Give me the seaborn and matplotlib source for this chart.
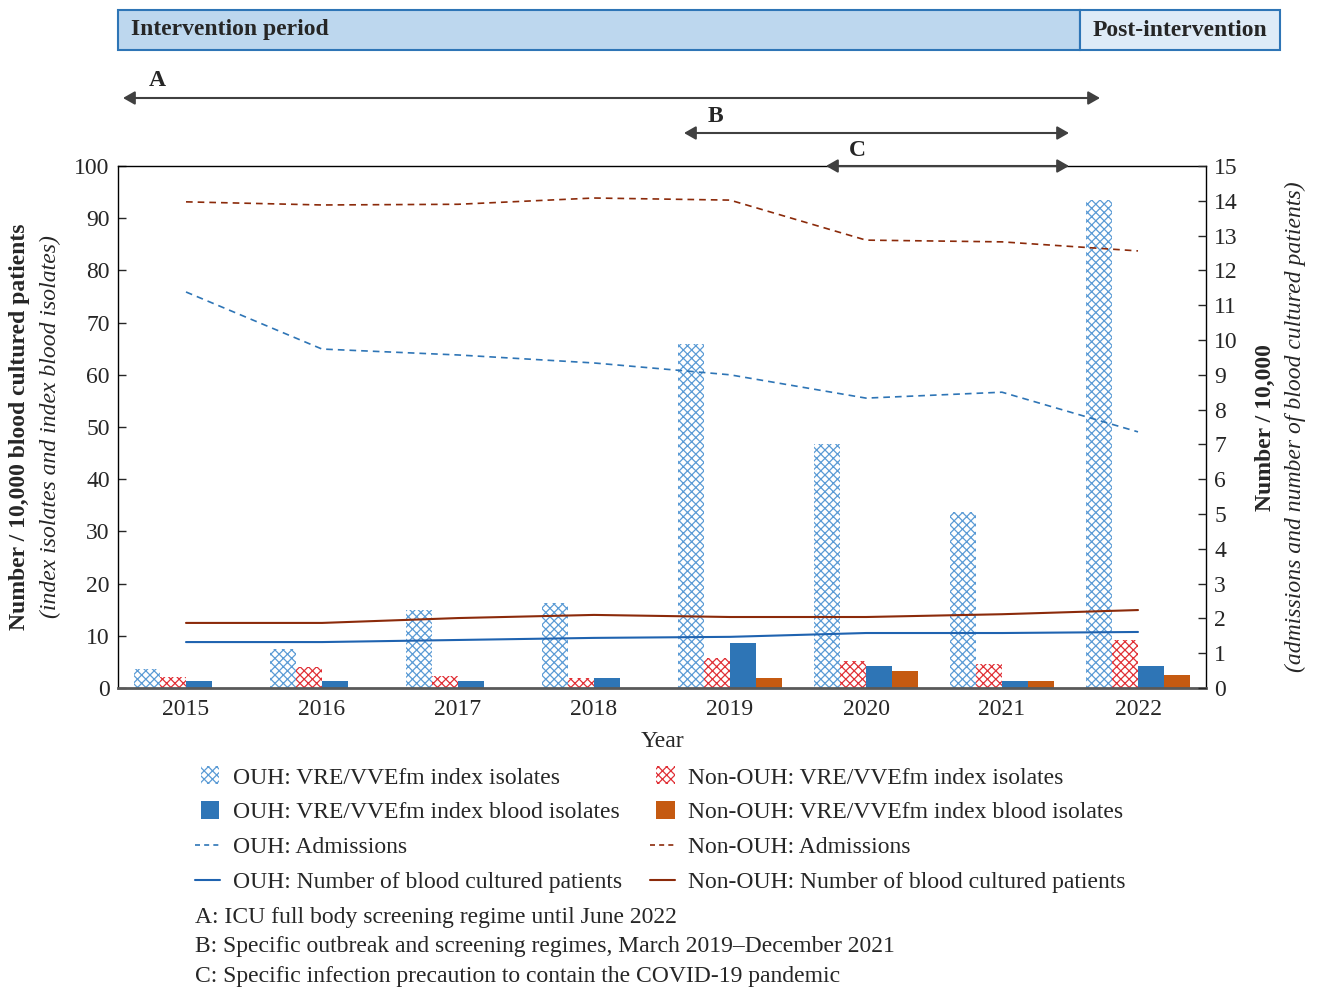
import numpy as np
import pandas as pd
import matplotlib
matplotlib.use("Agg")
import matplotlib.pyplot as plt
from matplotlib.patches import Patch, Rectangle, FancyArrowPatch
from matplotlib.lines import Line2D
from matplotlib.legend_handler import HandlerPatch
import seaborn as sns

years = ["2015", "2016", "2017", "2018", "2019", "2020", "2021", "2022"]

# left axis: per 10,000 blood cultured patients
ouh_index = [3.6, 7.5, 15.0, 16.3, 65.9, 46.7, 33.7, 93.5]
non_index = [2.1, 4.0, 2.3, 1.9, 5.7, 5.2, 4.6, 9.2]
ouh_blood = [1.4, 1.4, 1.4, 1.9, 8.7, 4.2, 1.4, 4.2]
non_blood = [np.nan, np.nan, np.nan, np.nan, 1.9, 3.3, 1.4, 2.5]

# right axis: per 10,000
ouh_adm = [11.38, 9.74, 9.57, 9.34, 9.0, 8.33, 8.5, 7.36]
non_adm = [13.97, 13.88, 13.9, 14.08, 14.02, 12.87, 12.82, 12.56]
ouh_bc = [1.32, 1.32, 1.38, 1.44, 1.47, 1.58, 1.58, 1.61]
non_bc = [1.87, 1.87, 2.01, 2.1, 2.04, 2.04, 2.12, 2.24]

bar_names = ["OUH: VRE/VVEfm index isolates", "Non-OUH: VRE/VVEfm index isolates",
             "OUH: VRE/VVEfm index blood isolates", "Non-OUH: VRE/VVEfm index blood isolates"]
bar_colors = ["#5B9BD5", "#E03036", "#2E75B6", "#C55A11"]
FS = 17

sns.set_style("white")
plt.rcParams["font.family"] = ["Liberation Serif", "DejaVu Serif"]
plt.rcParams["hatch.linewidth"] = 0.9

df = pd.DataFrame({
    "year": years * 4,
    "value": ouh_index + non_index + ouh_blood + non_blood,
    "series": sum([[n] * len(years) for n in bar_names], []),
})

fig = plt.figure(figsize=(13.17, 9.88), dpi=100)
ax = fig.add_axes([118 / 1317, 1 - 688 / 988, 1088 / 1317, 522 / 988])

sns.barplot(data=df, x="year", y="value", hue="series", hue_order=bar_names,
            palette=bar_colors, width=0.77, dodge=True, legend=False, ax=ax,
            linewidth=0, saturation=1)

# hatched bars for the index isolates
for cont, col, hatched in zip(ax.containers, bar_colors, [True, True, False, False]):
    for p in cont:
        if hatched:
            p.set_facecolor("white")
            p.set_edgecolor(col)
            p.set_hatch("xxxx")
            p.set_linewidth(0)

ax.set_ylim(0, 100)
ax.set_xlim(-0.5, len(years) - 0.5)
ax.set_yticks(range(0, 101, 10))
ax.set_xlabel("Year", fontsize=FS, labelpad=8)
ax.set_ylabel("")
ax.tick_params(axis="y", direction="in", length=6, width=1, labelsize=FS, left=True, pad=6)
ax.tick_params(axis="x", length=0, labelsize=FS, pad=8)
for s in ["left", "right", "top"]:
    ax.spines[s].set_color("black")
    ax.spines[s].set_linewidth(1)
ax.spines["bottom"].set_color("#595959")
ax.spines["bottom"].set_linewidth(2)

ax2 = ax.twinx()
xpos = np.arange(len(years))
sns.lineplot(x=xpos, y=ouh_adm, ax=ax2, color="#2E75B6", linestyle=(0, (4, 3)), linewidth=1.2)
sns.lineplot(x=xpos, y=non_adm, ax=ax2, color="#8B2A0A", linestyle=(0, (4, 3)), linewidth=1.2)
sns.lineplot(x=xpos, y=ouh_bc, ax=ax2, color="#1F63B0", linewidth=1.5)
sns.lineplot(x=xpos, y=non_bc, ax=ax2, color="#8B2A0A", linewidth=1.5)
ax2.set_ylim(0, 15)
ax2.set_yticks(range(0, 16))
ax2.tick_params(axis="y", direction="in", length=6, width=1, labelsize=FS, right=True, pad=6)
for s in ax2.spines.values():
    s.set_visible(False)

# axis titles
fig.text(20 / 1317, 1 - 427 / 988, "Number / 10,000 blood cultured patients", rotation=90,
         ha="center", va="center", fontsize=FS, fontweight="bold")
fig.text(50 / 1317, 1 - 427 / 988, "(index isolates and index blood isolates)", rotation=90,
         ha="center", va="center", fontsize=FS, fontstyle="italic")
fig.text(1265 / 1317, 1 - 428 / 988, "Number / 10,000", rotation=90,
         ha="center", va="center", fontsize=FS, fontweight="bold")
fig.text(1295 / 1317, 1 - 427 / 988, "(admissions and number of blood cultured patients)", rotation=90,
         ha="center", va="center", fontsize=FS, fontstyle="italic")

# period banner
fig.patches.append(Rectangle((118 / 1317, 1 - 50 / 988), 962 / 1317, 40 / 988, transform=fig.transFigure,
                             facecolor="#BDD7EE", edgecolor="#2E75B6", linewidth=1.5))
fig.patches.append(Rectangle((1080 / 1317, 1 - 50 / 988), 200 / 1317, 40 / 988, transform=fig.transFigure,
                             facecolor="#DEEBF7", edgecolor="#2E75B6", linewidth=1.5))
fig.text(131 / 1317, 1 - 30 / 988, "Intervention period", ha="left", va="center", fontsize=FS, fontweight="bold")
fig.text(1180 / 1317, 1 - 30 / 988, "Post-intervention", ha="center", va="center", fontsize=FS, fontweight="bold")

# period arrows
arrows = [("A", 123, 1100, 98, 157, 80), ("B", 684, 1069, 133, 715, 117), ("C", 826, 1069, 166, 857, 151)]
for lab, x0, x1, y, lx, ly in arrows:
    fig.add_artist(FancyArrowPatch(
        (x0 / 1317, 1 - y / 988), (x1 / 1317, 1 - y / 988), transform=fig.transFigure,
        arrowstyle="<|-|>,head_length=7,head_width=4", color="#404040", linewidth=1.5,
        shrinkA=0, shrinkB=0))
    fig.text(lx / 1317, 1 - ly / 988, lab, ha="center", va="center", fontsize=FS, fontweight="bold")


def square(legend, orig_handle, xdescent, ydescent, width, height, fontsize):
    s = height * 1.1
    return Rectangle((-xdescent + (width - s) / 2 + 2, -ydescent + (height - s) / 2), s, s)


# legend
handles = [
    Patch(facecolor="white", edgecolor=bar_colors[0], hatch="xxxx", linewidth=0),
    Patch(facecolor=bar_colors[2], linewidth=0),
    Line2D([], [], color="#2E75B6", linestyle=(0, (3, 2.5)), linewidth=1.2),
    Line2D([], [], color="#1F63B0", linewidth=1.5),
    Patch(facecolor="white", edgecolor=bar_colors[1], hatch="xxxx", linewidth=0),
    Patch(facecolor=bar_colors[3], linewidth=0),
    Line2D([], [], color="#8B2A0A", linestyle=(0, (3, 2.5)), linewidth=1.2),
    Line2D([], [], color="#8B2A0A", linewidth=1.5),
]
labels = ["OUH: VRE/VVEfm index isolates", "OUH: VRE/VVEfm index blood isolates",
          "OUH: Admissions", "OUH: Number of blood cultured patients",
          "Non-OUH: VRE/VVEfm index isolates", "Non-OUH: VRE/VVEfm index blood isolates",
          "Non-OUH: Admissions", "Non-OUH: Number of blood cultured patients"]
fig.legend(handles, labels, loc="upper left", bbox_to_anchor=(195 / 1317, 1 - 767 / 988), ncol=2,
           frameon=False, fontsize=FS, handlelength=1.05, handleheight=0.7, handletextpad=0.55,
           columnspacing=1.2, labelspacing=0.56, borderpad=0, borderaxespad=0,
           handler_map={Patch: HandlerPatch(patch_func=square)})

notes = ["A: ICU full body screening regime until June 2022",
         "B: Specific outbreak and screening regimes, March 2019\u2013December 2021",
         "C: Specific infection precaution to contain the COVID-19 pandemic"]
for i, t in enumerate(notes):
    fig.text(195 / 1317, 1 - (917 + 29.5 * i) / 988, t, ha="left", va="center", fontsize=FS)

fig.savefig("out.png", dpi=100)
